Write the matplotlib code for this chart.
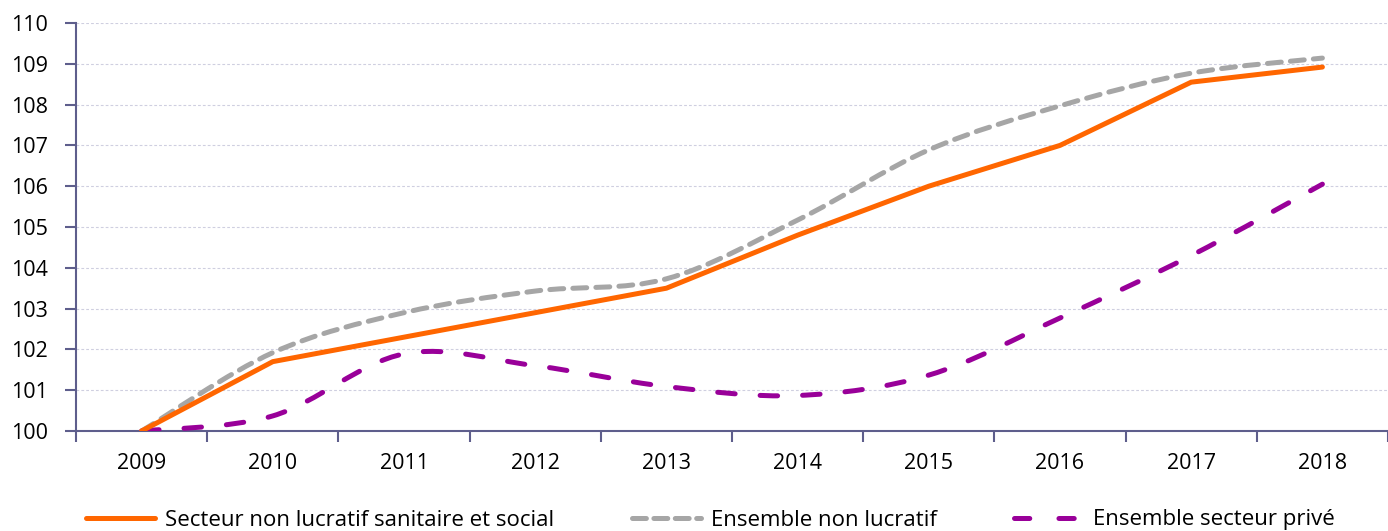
import matplotlib
matplotlib.use("Agg")
import matplotlib.pyplot as plt
from matplotlib.path import Path
from matplotlib.patches import PathPatch
from matplotlib.lines import Line2D
import numpy as np

# ---- data -----------------------------------------------------------
years = ["2009", "2010", "2011", "2012", "2013", "2014", "2015", "2016", "2017", "2018"]
sanitaire_social = [100.0, 101.7, 102.3, 102.9, 103.5, 104.8, 106.0, 107.0, 108.55, 108.92]
ensemble_non_lucratif = [100.0, 101.92, 102.9, 103.43, 103.73, 105.17, 106.89, 107.97, 108.77, 109.14]
ensemble_prive = [100.0, 100.37, 101.89, 101.6, 101.09, 100.87, 101.37, 102.77, 104.3, 106.05]

labels = ["Secteur non lucratif sanitaire et social",
          "Ensemble non lucratif",
          "Ensemble secteur privé"]

ORANGE = "#ff6600"
GRAY = "#a6a6a6"
PURPLE = "#990099"
AXIS = "#5e5e8c"
GRID = "#cfcfe0"

plt.rcParams["font.family"] = ["Open Sans", "DejaVu Sans"]
plt.rcParams["lines.scale_dashes"] = False


def smooth_path(xs, ys):
    """Excel-like smoothed line: cubic Bezier through the data points."""
    pts = np.column_stack([xs, ys]).astype(float)
    n = len(pts)
    verts = [pts[0]]
    codes = [Path.MOVETO]
    for i in range(n - 1):
        p_prev = pts[i - 1] if i > 0 else pts[i]
        p_next2 = pts[i + 2] if i + 2 < n else pts[i + 1]
        c1 = pts[i] + (pts[i + 1] - p_prev) / 6.0
        c2 = pts[i + 1] - (p_next2 - pts[i]) / 6.0
        verts += [c1, c2, pts[i + 1]]
        codes += [Path.CURVE4] * 3
    return Path(verts, codes)


fig = plt.figure(figsize=(13.88, 5.31), dpi=100)
ax = fig.add_axes([76 / 1388, 100 / 531, 1 - 76 / 1388, 408 / 531])

x = np.arange(len(years))
lw = 3.6
gray_dash = (0, (10.0, 6.6))
purple_dash = (0, (12.6, 18.0))

ax.plot(x, sanitaire_social, color=ORANGE, lw=lw, solid_capstyle="round",
        solid_joinstyle="miter", zorder=4)
ax.add_patch(PathPatch(smooth_path(x, ensemble_non_lucratif), fill=False,
                       edgecolor=GRAY, lw=lw, linestyle=gray_dash,
                       capstyle="round", zorder=3))
ax.add_patch(PathPatch(smooth_path(x, ensemble_prive), fill=False,
                       edgecolor=PURPLE, lw=lw, linestyle=purple_dash,
                       capstyle="round", zorder=3))

# ---- axes -------------------------------------------------------------
ax.set_xlim(-0.5, len(years) - 0.5)
ax.set_ylim(100, 110)
ax.set_yticks(range(100, 111))
ax.set_xticks(x)
ax.set_xticklabels(years)
ax.set_xticks(np.arange(-0.5, len(years)), minor=True)
ax.tick_params(axis="x", which="major", length=0, labelsize=15.5, pad=16, colors="black")
ax.tick_params(axis="x", which="minor", length=8, width=1.5, color=AXIS)
ax.tick_params(axis="y", length=8, width=1.5, color=AXIS, labelsize=15.5, pad=12)

for side in ("top", "right"):
    ax.spines[side].set_visible(False)
for side in ("left", "bottom"):
    ax.spines[side].set_color(AXIS)
    ax.spines[side].set_linewidth(1.5)

ax.grid(axis="y", color=GRID, linestyle=(0, (2, 1.5)), linewidth=0.8)
ax.set_axisbelow(True)

# ---- legend -------------------------------------------------------------
handles = [
    Line2D([], [], color=ORANGE, lw=lw, solid_capstyle="round"),
    Line2D([], [], color=GRAY, lw=lw, linestyle=(0, (10.0, 5.4)), dash_capstyle="round"),
    Line2D([], [], color=PURPLE, lw=lw, linestyle=(0, (11.0, 21.0)), dash_capstyle="round"),
]
fig.legend(handles, labels, ncol=3, frameon=False, fontsize=16,
           loc="center left", bbox_to_anchor=(86 / 1388, 11 / 531),
           borderpad=0, borderaxespad=0, handlelength=3.1,
           handletextpad=0.45, columnspacing=3.5)

fig.savefig("out.png", dpi=100)
